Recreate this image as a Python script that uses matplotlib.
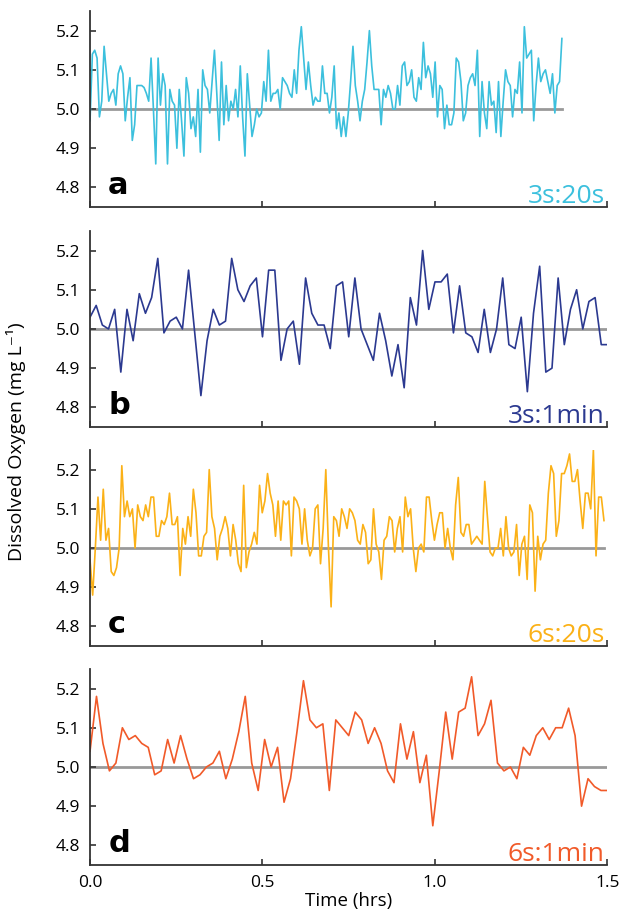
import numpy as np
import matplotlib.pyplot as plt

# ---------------------------------------------------------------------------
# Data (dissolved oxygen, mg/L)
# ---------------------------------------------------------------------------

# a) 3s:20s, ends at ~1.37 hrs
do_a = [
    4.97, 5.14, 5.15, 5.13, 4.98, 5.02, 5.16, 5.09, 5.02, 5.04, 5.05, 5.01, 5.09, 5.11, 5.09, 4.97,
    5.03, 5.08, 4.92, 4.96, 5.06, 5.06, 5.06, 5.055, 5.04, 5.02, 5.13, 5.00, 4.86, 5.13, 5.01, 5.09,
    5.06, 4.86, 5.05, 5.02, 5.01, 4.90, 5.05, 4.97, 4.88, 5.08, 5.04, 4.95, 4.98, 4.93, 5.05, 4.89,
    5.10, 5.06, 5.05, 4.99, 5.07, 5.15, 5.04, 4.92, 5.12, 4.96, 5.06, 4.97, 5.02, 5.00, 5.05, 4.98,
    5.11, 4.98, 4.88, 5.09, 5.01, 4.93, 4.96, 5.00, 4.98,
    4.99, 5.07, 5.02, 5.15, 5.02, 5.04, 5.04, 5.05, 5.00, 5.08, 5.07, 5.06, 5.04, 5.03, 5.10, 5.04,
    5.15, 5.21, 5.13, 5.05, 5.12, 5.06, 5.01, 5.03, 5.02, 5.02, 5.11, 5.04, 5.04, 4.99, 5.03, 5.11,
    4.95, 4.99, 4.93, 4.98, 4.93, 4.99, 5.07, 5.16, 5.06, 5.02, 4.97, 5.02, 5.05, 5.12, 5.20, 5.11,
    5.05, 5.05, 5.05, 4.96, 5.05, 5.03, 5.06, 5.04, 5.00, 5.00, 5.06, 5.01, 5.11, 5.12, 5.06, 5.07,
    5.10, 5.03, 5.02, 5.08, 5.05, 5.17, 5.08, 5.11, 5.09, 5.03,
    5.12, 4.98, 5.06, 5.05, 4.95, 5.01, 4.96, 4.96, 4.99, 5.13, 5.12, 5.07, 4.97, 4.99, 5.06, 5.08,
    5.09, 5.06, 5.15, 4.93, 5.07, 4.99, 4.95, 5.07, 5.01, 5.02, 4.94, 5.07, 4.93, 5.02, 5.10, 5.07,
    5.06, 4.98, 5.05, 5.04, 5.12, 4.99, 5.21, 5.13, 5.14, 5.15, 4.97, 5.06, 5.13, 5.07, 5.09, 5.10,
    5.07, 5.04, 5.09, 4.99, 5.06, 5.07, 5.18,
]

# b) 3s:1min
do_b = [
    5.03, 5.06, 5.01, 5.00, 5.05, 4.89, 5.05, 4.97, 5.09, 5.04, 5.08, 5.18, 4.99, 5.02, 5.03, 5.00,
    5.15, 4.99, 4.83, 4.97, 5.05, 5.01, 5.02, 5.18, 5.10, 5.07, 5.11, 5.13, 4.98, 5.15, 5.15, 4.92,
    5.00, 5.02, 4.91, 5.13, 5.04, 5.01, 5.01, 4.95, 5.11, 5.12,
    4.98, 5.13, 5.00, 4.96, 4.92, 5.04, 4.97, 4.88, 4.96, 4.85, 5.08, 5.01, 5.20, 5.05, 5.12, 5.12,
    5.14, 4.99, 5.11, 4.99, 4.98, 4.94, 5.05, 4.94, 5.00, 5.13, 4.96, 4.95, 5.03, 4.84, 5.04, 5.16,
    4.89, 4.90, 5.13, 4.96, 5.05, 5.10, 5.00, 5.07, 5.08, 4.96, 4.96,
]

# c) 6s:20s
do_c = [
    4.97, 4.88, 5.00, 5.13, 5.02, 5.15, 5.02, 5.05, 4.94, 4.93, 4.95, 5.00, 5.21, 5.08, 5.12, 5.08,
    5.10, 5.00, 5.11, 5.08, 5.07, 5.11, 5.08, 5.13, 5.13, 5.03, 5.03, 5.07, 5.06, 5.08, 5.14, 5.06,
    5.06, 5.08, 4.93, 5.05, 5.01, 5.08, 5.03, 5.15, 5.09, 4.98, 4.98, 5.03, 5.04, 5.20, 5.08, 5.05,
    4.97, 5.03, 5.05, 5.08, 5.05, 4.98, 5.06, 5.02, 4.96, 4.94, 5.16, 4.95, 4.99, 5.01, 5.04, 5.01,
    5.16, 5.09, 5.12, 5.19, 5.14, 5.11, 5.03, 5.12, 5.02, 5.12, 5.11, 5.12, 4.98, 5.13, 5.12, 5.10,
    5.01, 5.10, 5.02, 4.98, 5.00, 5.10, 5.11, 4.96, 5.05, 5.20, 5.00, 4.85, 5.08, 5.07, 5.03, 5.10,
    5.08, 5.05, 5.10, 5.09, 5.07, 5.02, 5.01, 5.06, 5.04, 4.96, 4.97, 5.10, 5.01, 4.99, 4.92, 5.02,
    5.03, 5.08, 5.07, 4.99, 5.05, 5.08, 4.99, 5.13, 5.08, 5.10, 5.00, 4.94, 5.00, 5.01, 4.99, 5.13,
    5.13, 5.07,
    5.02, 5.06, 5.09, 5.09, 5.00, 5.05, 5.00, 4.97, 5.11, 5.18, 5.04, 5.03, 5.06, 5.06, 5.01, 5.02,
    5.03, 5.02, 5.01, 5.17, 5.08, 4.99, 4.98, 5.00, 5.00, 5.05, 4.98, 5.08, 5.00, 4.98, 4.99, 5.06,
    4.93, 5.01, 5.03, 4.92, 5.11, 5.09, 4.89, 5.03, 4.97, 5.01, 5.02, 5.14, 5.21, 5.19, 5.03, 5.07,
    5.19, 5.19, 5.21, 5.24, 5.17, 5.17, 5.20, 5.12, 5.05, 5.14, 5.14, 5.10, 5.25, 4.98, 5.13, 5.13,
    5.07,
]

# d) 6s:1min
do_d = [
    5.04, 5.18, 5.06, 4.99, 5.01, 5.10, 5.07, 5.08, 5.06, 5.05, 4.98, 4.99, 5.07, 5.01, 5.08, 5.02,
    4.97, 4.98, 5.00, 5.01, 5.04, 4.97, 5.02, 5.09, 5.18, 5.01, 4.94, 5.07, 5.00, 5.05, 4.91, 4.97,
    5.09, 5.22, 5.12, 5.10, 5.11, 4.94, 5.12, 5.10,
    5.08, 5.14, 5.12, 5.06, 5.10, 5.06, 4.99, 4.96, 5.11, 5.02, 5.09, 4.96, 5.03, 4.85, 4.99, 5.14,
    5.02, 5.14, 5.15, 5.23, 5.08, 5.11, 5.17, 5.01, 4.99, 5.00, 4.97, 5.05, 5.03, 5.08, 5.10, 5.07,
    5.10, 5.10, 5.15, 5.08, 4.90, 4.97, 4.95, 4.94, 4.94,
]

# record length of each series (hrs)
t_end = [1.368, 1.5, 1.49, 1.5]
labels = ["3s:20s", "3s:1min", "6s:20s", "6s:1min"]
letters = ["a", "b", "c", "d"]
colors = ["#3cc0dd", "#2b3990", "#fbb117", "#f15a29"]
target = 5.0

yticks = [4.8, 4.9, 5.0, 5.1, 5.2]
xticks = [0.0, 0.5, 1.0, 1.5]

# ---------------------------------------------------------------------------
# Plot
# ---------------------------------------------------------------------------

plt.rcParams['font.family'] = ['Open Sans', 'DejaVu Sans']

fig = plt.figure(figsize=(6.23, 9.19), dpi=100)

left, width, height = 0.1445, 0.8305, 0.2133
bottoms = [0.7747, 0.5354, 0.297, 0.0588]
series = [do_a, do_b, do_c, do_d]

for i, (vals, bot) in enumerate(zip(series, bottoms)):
    ax = fig.add_axes([left, bot, width, height])
    t = np.linspace(0, t_end[i], len(vals))
    ax.plot([0, t_end[i]], [target, target], color="#999999", lw=2.0, zorder=1)
    ax.plot(t, vals, color=colors[i], lw=1.2, zorder=2)

    ax.set_xlim(0, 1.5)
    ax.set_ylim(4.75, 5.25)
    ax.set_yticks(yticks)
    ax.set_yticklabels([f"{v:.1f}" for v in yticks])
    ax.set_xticks(xticks)
    if i == 3:
        ax.set_xticklabels([f"{v:.1f}" for v in xticks])
        ax.set_xlabel("Time (hrs)", fontsize=13.5, labelpad=1)
    else:
        ax.set_xticklabels([])

    for s in ["top", "right"]:
        ax.spines[s].set_visible(False)
    for s in ["left", "bottom"]:
        ax.spines[s].set_color("#333333")
        ax.spines[s].set_linewidth(1.3)
    ax.tick_params(direction="in", length=4, width=1.2, color="#333333",
                   labelsize=12.5, pad=7)

    ax.text(0.035, 0.065, letters[i], transform=ax.transAxes, fontsize=22,
            fontweight="heavy", family="DejaVu Sans", color="black", va="baseline")
    ax.text(0.995, 0.02, labels[i], transform=ax.transAxes, fontsize=19,
            color=colors[i], ha="right", va="baseline")

fig.text(0.026, 0.519, "Dissolved Oxygen (mg L\u207b\u00b9)", rotation=90,
         ha="center", va="center", fontsize=14)

fig.savefig("out.png", dpi=100)
